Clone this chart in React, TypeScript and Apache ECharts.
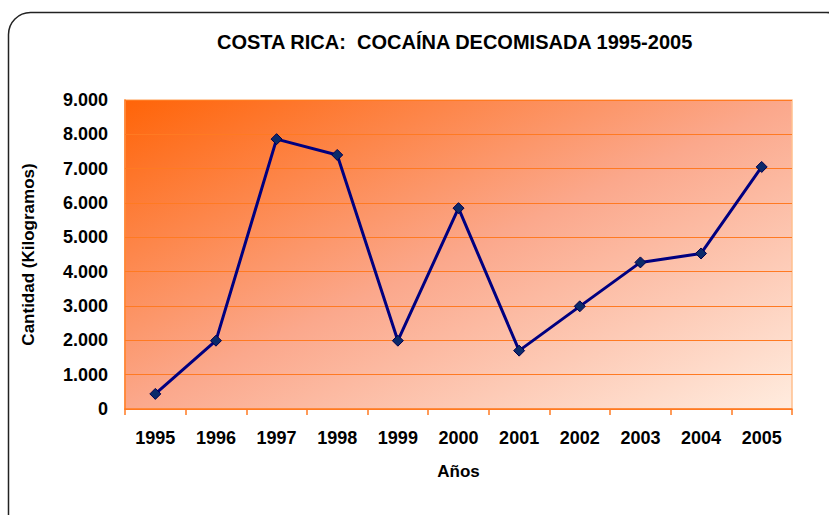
import React, { useEffect, useRef } from "react";
import * as echarts from "echarts";

const categories = ["1995", "1996", "1997", "1998", "1999", "2000", "2001", "2002", "2003", "2004", "2005"];
const values = [440, 1990, 7860, 7400, 1990, 5850, 1700, 2990, 4270, 4530, 7050];
const yTicks = { min: 0, max: 9000, interval: 1000 };

const fmt = (v: number) => String(v).replace(/\B(?=(\d{3})+(?!\d))/g, ".");

export default function App() {
  const ref = useRef<HTMLDivElement>(null);
  useEffect(() => {
    const chart = echarts.init(ref.current!, null, { renderer: "svg" });
    const font = "Liberation Sans, Arial, sans-serif";
    chart.setOption({
      animation: false,
      backgroundColor: "#ffffff",
      graphic: [
        {
          type: "rect",
          shape: { x: 8.5, y: 12.5, width: 840, height: 530, r: 22 },
          style: { fill: "none", stroke: "#222", lineWidth: 1.5 },
          z: -1,
        },
        {
          type: "text",
          left: 217,
          top: 32,
          style: {
            text: "COSTA RICA:  COCAÍNA DECOMISADA 1995-2005",
            font: `bold 20px ${font}`,
            fill: "#000",
          },
        },
      ],
      grid: {
        left: 125,
        top: 100,
        right: 37,
        bottom: 106,
        show: true,
        borderWidth: 1.5,
        borderColor: "#FFC08E",
        backgroundColor: new echarts.graphic.LinearGradient(0, 0, 1, 1, [
          { offset: 0, color: "#FF6408" },
          { offset: 0.5, color: "#FBA88C" },
          { offset: 1, color: "#FFECDF" },
        ]),
      },
      xAxis: {
        type: "category",
        data: categories,
        boundaryGap: true,
        name: "Años",
        nameLocation: "middle",
        nameGap: 54,
        nameTextStyle: { fontFamily: font, fontWeight: "bold", fontSize: 17, color: "#000" },
        axisLine: { lineStyle: { color: "#FF7A22", width: 1.5 } },
        axisTick: { show: true, length: 6, alignWithLabel: false, lineStyle: { color: "#FF7A22", width: 1.5 } },
        axisLabel: { fontFamily: font, fontWeight: "bold", fontSize: 18, color: "#000", margin: 20 },
        splitLine: { show: false },
      },
      yAxis: {
        type: "value",
        min: yTicks.min,
        max: yTicks.max,
        interval: yTicks.interval,
        name: "Cantidad (Kilogramos)",
        nameLocation: "middle",
        nameGap: 88,
        nameTextStyle: { fontFamily: font, fontWeight: "bold", fontSize: 17, color: "#000" },
        axisLine: { show: true, lineStyle: { color: "#FF7A22", width: 1.5 } },
        axisTick: { show: false },
        axisLabel: {
          fontFamily: font,
          fontWeight: "bold",
          fontSize: 18,
          color: "#000",
          margin: 17,
          formatter: (v: number) => fmt(v),
        },
        splitLine: { show: true, lineStyle: { color: "#FF7A22", width: 1 } },
      },
      series: [
        {
          type: "line",
          data: values,
          symbol: "diamond",
          symbolSize: 11,
          lineStyle: { color: "#000080", width: 3 },
          itemStyle: { color: "#0A2A6A", borderColor: "#000050", borderWidth: 1 },
        },
      ],
    });
    return () => chart.dispose();
  }, []);
  return <div ref={ref} style={{ position: "fixed", left: 0, top: 0, width: 829, height: 515 }} />;
}
